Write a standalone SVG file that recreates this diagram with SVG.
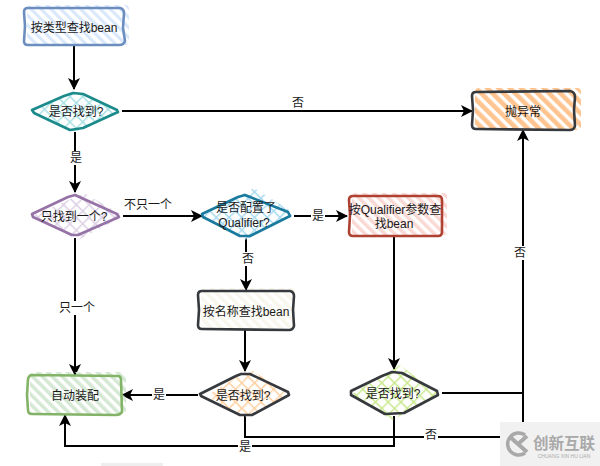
<svg xmlns="http://www.w3.org/2000/svg" width="600" height="466" viewBox="0 0 600 466">
<style>
text{font-family:"Liberation Sans","Noto Sans CJK SC",sans-serif;font-size:12px;fill:#1a1a1a;text-anchor:middle;dominant-baseline:central}
.o{fill:none;stroke-width:2.6;stroke-linejoin:round;stroke-linecap:round}
.c{fill:none;stroke:#000;stroke-width:2}
.l{fill:#fff}
.wm{fill:#a9a9a9}
</style>
<defs>
<marker id="a" viewBox="0 0 12 12" refX="11" refY="6" markerWidth="12" markerHeight="12" markerUnits="userSpaceOnUse" orient="auto"><path d="M0 0L12 6L0 12L3 6Z" fill="#000"/></marker>
<pattern id="hB" width="7" height="7" patternUnits="userSpaceOnUse" patternTransform="rotate(-45)"><rect width="3.2" height="7" fill="#dae8fc"/></pattern>
<pattern id="hO" width="8" height="8" patternUnits="userSpaceOnUse" patternTransform="rotate(-45)"><rect width="4.6" height="8" fill="#ffc48f"/></pattern>
<pattern id="hR" width="7" height="7" patternUnits="userSpaceOnUse" patternTransform="rotate(-45)"><rect width="3.6" height="7" fill="#fad9d5"/></pattern>
<pattern id="hY" width="7" height="7" patternUnits="userSpaceOnUse" patternTransform="rotate(-45)"><rect width="3.6" height="7" fill="#f9f7ed"/></pattern>
<pattern id="hG" width="7" height="7" patternUnits="userSpaceOnUse" patternTransform="rotate(-45)"><rect width="3.6" height="7" fill="#d5e8d4"/></pattern>
<pattern id="xT" width="9" height="9" patternUnits="userSpaceOnUse" patternTransform="rotate(45)"><path d="M0 0V9M0 0H9" stroke="#a6e0e3" stroke-width="2.8" fill="none"/></pattern>
<pattern id="xP" width="9" height="9" patternUnits="userSpaceOnUse" patternTransform="rotate(45)"><path d="M0 0V9M0 0H9" stroke="#dccfe4" stroke-width="2.8" fill="none"/></pattern>
<pattern id="xC" width="9" height="9" patternUnits="userSpaceOnUse" patternTransform="rotate(45)"><path d="M0 0V9M0 0H9" stroke="#a8d9ef" stroke-width="2.8" fill="none"/></pattern>
<pattern id="xO" width="9" height="9" patternUnits="userSpaceOnUse" patternTransform="rotate(45)"><path d="M0 0V9M0 0H9" stroke="#ffcf9f" stroke-width="2.8" fill="none"/></pattern>
<pattern id="xL" width="9" height="9" patternUnits="userSpaceOnUse" patternTransform="rotate(45)"><path d="M0 0V9M0 0H9" stroke="#c8e88a" stroke-width="2.8" fill="none"/></pattern>
</defs>

<g id="connectors">
<path class="c" marker-end="url(#a)" d="M74 46V89"/>
<path class="c" marker-end="url(#a)" d="M122 111H472"/>
<path class="c" marker-end="url(#a)" d="M75 132V192"/>
<path class="c" marker-end="url(#a)" d="M123 216H202"/>
<path class="c" marker-end="url(#a)" d="M294 216H347"/>
<path class="c" marker-end="url(#a)" d="M75 238V375"/>
<path class="c" marker-end="url(#a)" d="M246 238V290"/>
<path class="c" marker-end="url(#a)" d="M245 330V371"/>
<path class="c" marker-end="url(#a)" d="M394 236V369"/>
<path class="c" marker-end="url(#a)" d="M198 395H122"/>
<path class="c" marker-end="url(#a)" d="M442 393H523V130"/>
<path class="c" d="M523 393V437"/>
<path class="c" d="M245 416V437H523"/>
<path class="c" marker-end="url(#a)" d="M394 416V446H65V415"/>
<rect class="l" x="292" y="96" width="14" height="14"/><text x="298" y="103">否</text>
<rect class="l" x="69" y="151" width="14" height="14"/><text x="76" y="158">是</text>
<text x="148" y="205">不只一个</text>
<rect class="l" x="311" y="209" width="14" height="14"/><text x="318" y="216">是</text>
<rect class="l" x="59" y="301" width="36" height="14"/><text x="77" y="308">只一个</text>
<rect class="l" x="241" y="252" width="14" height="14"/><text x="248" y="259">否</text>
<rect class="l" x="152" y="388" width="14" height="14"/><text x="159" y="395">是</text>
<rect class="l" x="514" y="246" width="14" height="14"/><text x="520" y="253">否</text>
<rect class="l" x="238" y="440" width="14" height="14"/><text x="245" y="447">是</text>
<rect class="l" x="424" y="428" width="14" height="14"/><text x="431" y="435">否</text>
</g>

<g id="n1"><rect x="27" y="5" width="102" height="40" rx="4" fill="url(#hB)"/>
<path class="o" stroke="#6c8ebf" d="M28 8L120 8Q124 9 124 13L123 28L125 41Q124 45 119 45L28 45Q24 45 24 41L25 26L24 12Q24 8 28 8Z"/><text x="74" y="28">按类型查找bean</text></g>

<g id="n2"><path d="M75 92L120 112L75 132L33 111Z" fill="url(#xT)"/>
<path class="o" stroke="#1a8a8a" d="M73 93L83 94L117 110L118 112L83 128L70 130L34 113L32 110L64 96Z"/><text x="76" y="112">是否找到?</text></g>

<g id="n3"><path d="M84 193L124 216L78 240L32 216Z" fill="url(#xP)"/>
<path class="o" stroke="#9673a6" d="M75 195L117 214L119 217L78 235L72 235L33 217L32 214L68 197Z"/><text x="74" y="217">只找到一个?</text></g>

<g id="n4"><path d="M254 188L296 214L246 240L202 216Z" fill="url(#xC)"/>
<path class="o" stroke="#1a7a9e" d="M245 195L288 212L290 216L250 236L240 236L203 217L202 214L238 197Z"/><text x="246" y="208">是否配置了</text><text x="244" y="223">Qualifier?</text></g>

<g id="n5"><rect x="352" y="193" width="95" height="42" rx="3" fill="url(#hR)"/>
<path class="o" stroke="#ae4132" d="M353 196L438 196Q442 196 442 200L442 232Q442 236 438 236L353 236Q349 236 349 232L350 215L349 200Q349 196 353 196Z"/><text x="395" y="210">按Qualifier参数查</text><text x="394" y="224">找bean</text></g>

<g id="n6"><rect x="475" y="88" width="106" height="42" rx="4" fill="url(#hO)"/>
<path class="o" stroke="#36393d" d="M476 92L570 91Q575 92 575 97L574 110L575 126Q574 130 570 130L476 129Q472 129 472 125L473 110L472 96Q472 92 476 92Z"/><text x="523" y="112">抛异常</text></g>

<g id="n7"><rect x="201" y="288" width="94" height="40" rx="4" fill="url(#hY)"/>
<path class="o" stroke="#36393d" d="M202 291L290 291Q294 292 294 296L293 310L294 326Q293 330 289 330L202 329Q198 329 198 325L199 310L198 295Q198 291 202 291Z"/><text x="246" y="312">按名称查找bean</text></g>

<g id="n8"><path d="M250 369L290 395L245 417L206 396Z" fill="url(#xO)"/>
<path class="o" stroke="#36393d" d="M241 374L250 374L288 392L289 395L252 415L240 415L201 396L200 394L236 376Z"/><text x="243" y="396">是否找到?</text></g>

<g id="n9"><path d="M400 365L440 395L392 420L352 394Z" fill="url(#xL)"/>
<path class="o" stroke="#36393d" d="M392 372L402 373L437 391L438 395L404 413L385 414L351 395L351 391L382 376Z"/><text x="393" y="394">是否找到?</text></g>

<g id="n10"><rect x="30" y="372" width="96" height="42" rx="4" fill="url(#hG)"/>
<path class="o" stroke="#82b366" d="M32 375L118 376Q121 376 121 380L122 412Q120 415 116 415L32 414Q28 414 28 410L27 395L28 379Q29 375 32 375Z"/><text x="75" y="396">自动装配</text></g>

<g id="watermark"><rect x="500" y="422" width="100" height="44" fill="#f1f1f1"/>
<rect x="101" y="463" width="62" height="3" fill="#eeeeee"/>
<path d="M525 435A11 11 0 1 0 525 453" fill="none" stroke="#a9a9a9" stroke-width="3.5"/>
<path d="M510 437L527 452M527 436L517 445" fill="none" stroke="#a9a9a9" stroke-width="4"/>
<text class="wm" x="564" y="442" style="font-size:15.5px;font-weight:700;font-family:'Noto Sans CJK SC',sans-serif">创新互联</text>
<text class="wm" x="564" y="456" style="font-size:5px">CHUANG XIN HU LIAN</text></g>
</svg>
